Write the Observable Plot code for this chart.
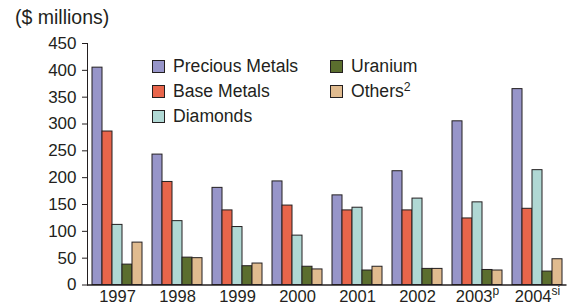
<!DOCTYPE html>
<html><head><meta charset="utf-8">
<script src="https://cdn.jsdelivr.net/npm/d3@7"></script>
<script src="https://cdn.jsdelivr.net/npm/@observablehq/plot@0.6"></script>
<style>
body{margin:0;background:#fff;font-family:"Liberation Sans",Arial,sans-serif;color:#231f20}
#wrap{position:relative;width:571px;height:304px;overflow:hidden}
#title{position:absolute;left:15px;top:8px;font-size:19.5px;line-height:19.5px;white-space:nowrap}
#chart{position:absolute;left:0;top:30px}
#legend{position:absolute;left:152px;top:54px;display:grid;grid-template-columns:178px auto;grid-auto-flow:column;grid-template-rows:25px 25px 25px;font-size:17.6px}
.item{display:flex;align-items:center;white-space:nowrap}
.sw{width:13px;height:13px;box-sizing:border-box;border:1px solid #231f20;margin-right:8px;flex:none}
sup{font-size:0.7em;vertical-align:0.5em;line-height:0}
</style></head><body>
<div id="wrap"><div id="title">($ millions)</div><div id="chart"></div><div id="legend"></div></div>
<script>
const years = ["1997","1998","1999","2000","2001","2002","2003","2004"];
const yearSup = ["","","","","","","p","si"];
const series = ["Precious Metals","Base Metals","Diamonds","Uranium","Others"];
const seriesSup = ["","","","","2"];
const colors = ["#9795c9","#e8654b","#b0d8d4","#5b6e2e","#e0bb8f"];
const precious = [405,243,181,193,167,212,305,365];
const base = [286,192,139,148,139,139,124,142];
const diamonds = [112,119,108,92,144,161,154,214];
const uranium = [38,51,35,34,27,30,28,25];
const others = [79,50,40,29,34,30,27,48];
const yTicks = [0,50,100,150,200,250,300,350,400,450];

const values = [precious, base, diamonds, uranium, others];
const key = (yr, s) => yr + "|" + s;
const data = [];
years.forEach((yr, i) => series.forEach((s, j) => data.push({key: key(yr, s), series: s, value: values[j][i]})));
// band domain: each year's five series, then an empty spacer band between years
const xDomain = [];
years.forEach((yr, i) => {
  series.forEach(s => xDomain.push(key(yr, s)));
  if (i < years.length - 1) xDomain.push(key(yr, "gap"));
});

const ink = "#231f20";
const plot = Plot.plot({
  width: 571, height: 274,
  marginLeft: 87, marginRight: 4.5, marginTop: 13, marginBottom: 19.5,
  style: {fontFamily: '"Liberation Sans", Arial, sans-serif', color: ink, background: "white"},
  x: {domain: xDomain, paddingInner: 0, paddingOuter: 0.47, label: null},
  y: {domain: [0, 450], label: null},
  color: {domain: series, range: colors},
  marks: [
    Plot.barY(data, {x: "key", y: "value", fill: "series", stroke: ink, strokeWidth: 1}),
    Plot.ruleY([0], {stroke: ink, strokeWidth: 1.5}),
    Plot.frame({anchor: "left", stroke: ink, strokeWidth: 1}),
    Plot.axisY({ticks: yTicks, tickSize: 5, tickPadding: 6, fontSize: 17, label: null, stroke: ink}),
    Plot.axisX({ticks: years.map(yr => key(yr, "Diamonds")), tickFormat: k => k.split("|")[0], tickSize: 0, tickPadding: 5, fontSize: 16.5, label: null})
  ]
});
document.getElementById("chart").appendChild(plot);

// superscripts on year labels
plot.querySelectorAll("text").forEach(t => {
  const k = years.indexOf(t.textContent);
  if (k >= 0 && yearSup[k]) {
    const ts = document.createElementNS("http://www.w3.org/2000/svg", "tspan");
    ts.setAttribute("baseline-shift", "super");
    ts.setAttribute("font-size", "12");
    ts.textContent = yearSup[k];
    t.appendChild(ts);
  }
});

const leg = document.getElementById("legend");
series.forEach((s, j) => {
  const it = document.createElement("div");
  it.className = "item";
  const sw = document.createElement("span");
  sw.className = "sw"; sw.style.background = colors[j];
  const lab = document.createElement("span");
  lab.textContent = s;
  if (seriesSup[j]) { const sp = document.createElement("sup"); sp.textContent = seriesSup[j]; lab.appendChild(sp); }
  it.appendChild(sw); it.appendChild(lab);
  leg.appendChild(it);
});
</script>
</body></html>
